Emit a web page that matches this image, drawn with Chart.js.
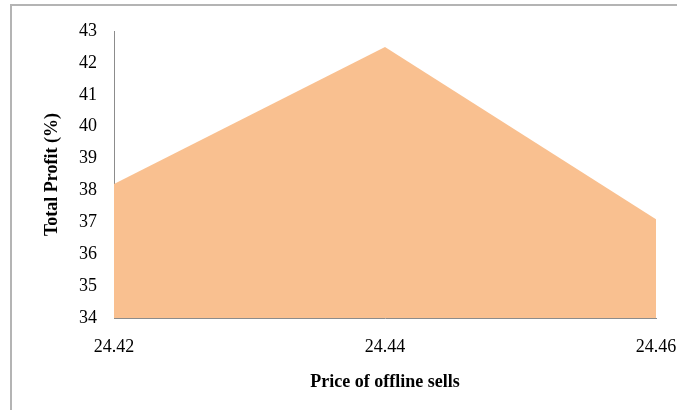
<!DOCTYPE html>
<html>
<head>
<meta charset="utf-8">
<script src="https://cdn.jsdelivr.net/npm/chart.js@4"></script>
<style>
    body { margin: 0; background: #fff; overflow: hidden; }
    #frame { position: absolute; left: 10px; top: 4px; width: 720px; height: 440px; border: 2px solid #b4b4b4; }
    #wrap { position: absolute; left: 0; top: 0; width: 677px; height: 410px; }
</style>
</head>
<body>
<div id="frame"></div>
<div id="wrap"><canvas id="myChart" width="677" height="410"></canvas></div>
<script>
'use strict';
let prices = ['24.42', '24.44', '24.46'];
let profit = [38.2, 42.5, 37.1];
let yMin = 34;
let yMax = 43;

let serif = "'Liberation Serif', 'Times New Roman', serif";

let ctx = document.getElementById('myChart').getContext('2d');
let myChart = new Chart(ctx, {
    type: 'line',
    data: {
        labels: prices,
        datasets: [{
            label: 'Total Profit',
            data: profit,
            fill: 'start',
            backgroundColor: '#F9C090',
            borderWidth: 0,
            pointRadius: 0,
            tension: 0
        }]
    },
    options: {
        responsive: false,
        animation: false,
        layout: { padding: { top: 31, right: 21, bottom: 0, left: 0 } },
        plugins: { legend: { display: false }, tooltip: { enabled: false } },
        scales: {
            x: {
                offset: false,
                grid: { display: false, drawTicks: false },
                border: { display: true, color: '#8c8c8c', width: 1 },
                ticks: { color: '#000', padding: 18, maxRotation: 0, font: { family: serif, size: 18 } },
                title: {
                    display: true,
                    text: 'Price of offline sells',
                    color: '#000',
                    font: { family: serif, size: 18, weight: 'bold' },
                    padding: { top: 0, bottom: 17 }
                },
                afterFit: function (scale) {
                    scale.height = 92;
                    scale.paddingLeft = 0;
                    scale.paddingRight = 0;
                }
            },
            y: {
                min: yMin,
                max: yMax,
                grid: { display: false, drawTicks: false },
                border: { display: true, color: '#8c8c8c', width: 1 },
                ticks: { stepSize: 1, color: '#000', padding: 17, font: { family: serif, size: 18 } },
                title: {
                    display: true,
                    text: 'Total Profit (%)',
                    color: '#000',
                    font: { family: serif, size: 18, weight: 'bold' },
                    padding: { top: 42, bottom: 0 }
                },
                afterFit: function (scale) {
                    scale.width = 114;
                    scale.paddingTop = 0;
                    scale.paddingBottom = 0;
                }
            }
        }
    }
});
</script>
</body>
</html>
